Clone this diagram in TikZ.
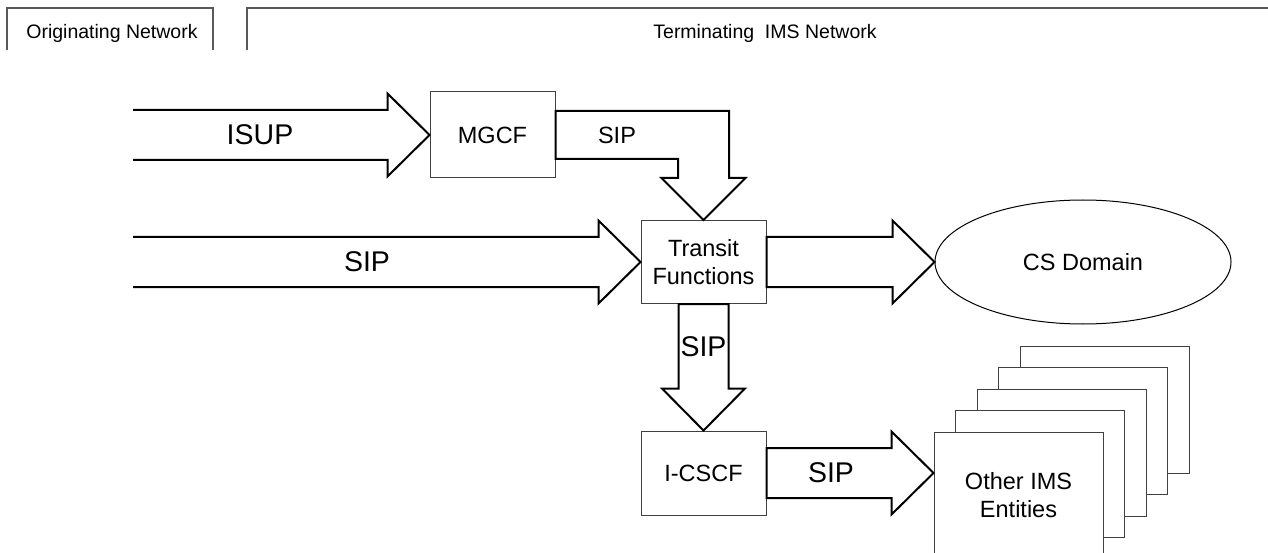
\documentclass[tikz,border=0pt]{standalone}
\usepackage{fontspec}
\setmainfont{Liberation Sans}
\usetikzlibrary{calc,shapes.geometric}

\tikzset{
  box/.style={draw=black!75, line width=1pt, fill=white, minimum width=125pt, inner sep=0pt},
  blk/.style={draw=black, line width=2pt, line join=miter},
  tab/.style={draw=black!65, line width=1.5pt},
  lbl/.style={font=\fontsize{23.5}{28}\selectfont},
  biglbl/.style={font=\fontsize{28.5}{32}\selectfont},
  hdr/.style={font=\fontsize{19.5}{23}\selectfont},
}

% #1: Anfang, #2: Spitze, #3: Abschluss
\newcommand{\sigarrow}[3]{%
  \draw[blk] ($(#1)+(0,-25)$) -- ($(#2)+(-42,-25)$) -- ($(#2)+(-42,-41.5)$) -- (#2)
    -- ($(#2)+(-42,41.5)$) -- ($(#2)+(-42,25)$) -- ($(#1)+(0,25)$) #3;}

\begin{document}
\begin{tikzpicture}[x=1pt, y=-1pt]
  \clip (0,0) rectangle (1268,553);
  % Reiter oben
  \draw[tab] (7,50) -- (7,8) -- (213,8) -- (213,50);
  \draw[tab] (247,50) -- (247,8) -- (1270,8);
  \node[hdr] (orig) at (112,33) {Originating Network};
  \node[hdr] (term) at (765,33) {Terminating\ \ IMS Network};

  \node[box, minimum height=86pt, lbl] (mgcf) at (492.5,135) {MGCF};
  \node[box, minimum height=83pt, lbl, align=center] (transit) at (703.5,262) {Transit\\Functions};
  \node[box, minimum height=84pt, lbl] (icscf) at (703.5,473) {I-CSCF};
  \node[ellipse, draw=black, line width=1pt, minimum width=296pt, minimum height=124pt,
        inner sep=0pt, lbl] (cs) at (1083,262) {CS Domain};
  % gestapelte Kaesten
  \foreach \k in {4,3,2,1}
    \draw[box] ($(934,432)+(21.5*\k,-21.5*\k)$) rectangle ++(169,127);
  \node[box, minimum width=169pt, minimum height=127pt, lbl, align=center] (other)
    at (1018.5,495.5) {Other IMS\\Entities};

  \coordinate (isupin) at (133,135);
  \coordinate (sipin) at (133,262);
  \coordinate (othertip) at (icscf.east -| other.west);
  \coordinate (bend) at (transit.north |- mgcf.east);

  \sigarrow{isupin}{mgcf.west}{}
  \sigarrow{sipin}{transit.west}{}
  \sigarrow{transit.east}{cs.west}{-- cycle}
  \sigarrow{icscf.east}{othertip}{-- cycle}
  % MGCF -> Transit
  \draw[blk] ($(mgcf.east)+(0,-24)$) -- ($(bend)+(25.5,-24)$) -- ($(transit.north)+(25.5,-42)$)
    -- ($(transit.north)+(42,-42)$) -- (transit.north) -- ($(transit.north)+(-42,-42)$)
    -- ($(transit.north)+(-25.5,-42)$) -- ($(bend)+(-25.5,24)$) -- ($(mgcf.east)+(0,24)$) -- cycle;
  % Transit -> I-CSCF
  \draw[blk] ($(transit.south)+(-25,0)$) -- ($(icscf.north)+(-25,-42)$) -- ($(icscf.north)+(-41.5,-42)$)
    -- (icscf.north) -- ($(icscf.north)+(41.5,-42)$) -- ($(icscf.north)+(25,-42)$)
    -- ($(transit.south)+(25,0)$) -- cycle;

  \node[biglbl] (isuplbl) at (260,135) {ISUP};
  \node[biglbl] (siplbl) at (367,262) {SIP};
  \node[lbl] (mgcfsip) at (617,135) {SIP};
  \node[biglbl] (downsip) at (703.5,347) {SIP};
  \node[biglbl] (icscfsip) at (831,473) {SIP};
\end{tikzpicture}
\end{document}
